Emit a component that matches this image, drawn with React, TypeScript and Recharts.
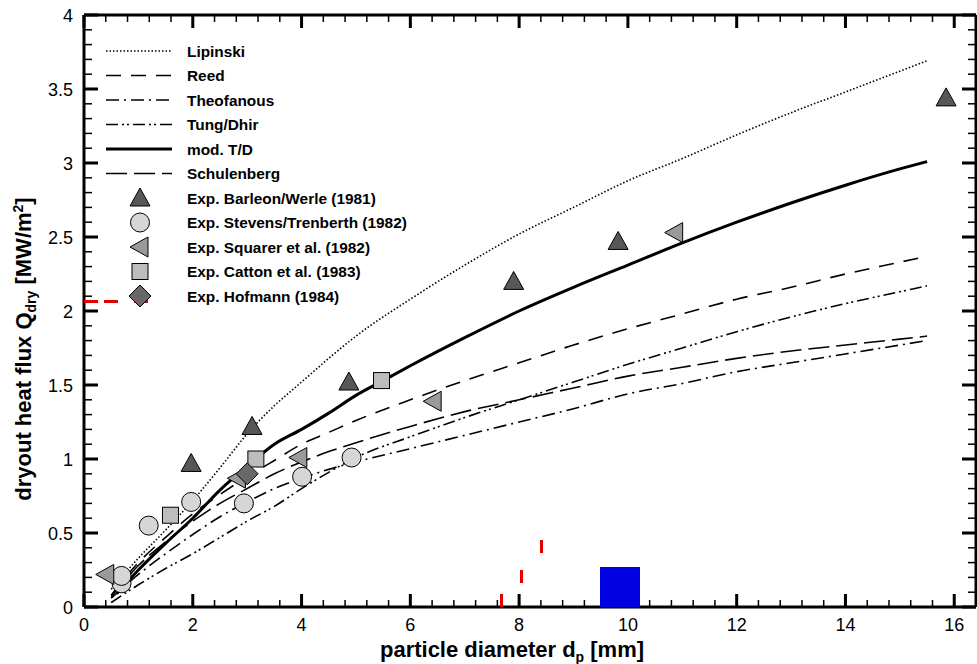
import { ComposedChart, Line, Scatter, XAxis, YAxis } from 'recharts';

// model curves: [d_p mm, Q_dry MW/m2]
const lipinski = [
  [0.5, 0.12], [1, 0.33], [1.5, 0.52], [2, 0.72], [2.5, 0.94], [3, 1.17], [3.5, 1.36],
  [4, 1.52], [4.5, 1.68], [5, 1.83], [6, 2.08], [7, 2.31], [8, 2.52], [9, 2.7],
  [10, 2.88], [11, 3.03], [12, 3.19], [13, 3.34], [14, 3.48], [15, 3.62], [15.5, 3.69],
];
const reed = [
  [0.5, 0.08], [1, 0.3], [1.5, 0.47], [2, 0.63], [2.5, 0.76], [3, 0.88], [3.5, 0.99],
  [4, 1.1], [4.5, 1.18], [5, 1.26], [6, 1.4], [7, 1.53], [8, 1.65], [9, 1.77],
  [10, 1.88], [11, 1.98], [12, 2.08], [13, 2.16], [14, 2.25], [15, 2.33], [15.5, 2.37],
];
const theofanous = [
  [0.5, 0.06], [1, 0.22], [1.5, 0.36], [2, 0.49], [2.5, 0.61], [3, 0.71], [3.5, 0.8],
  [4, 0.87], [4.5, 0.93], [5, 0.98], [6, 1.07], [7, 1.16], [8, 1.25], [9, 1.34],
  [10, 1.44], [11, 1.51], [12, 1.59], [13, 1.65], [14, 1.71], [15, 1.77], [15.5, 1.8],
];
const tungDhir = [
  [0.5, 0.03], [1, 0.15], [1.5, 0.26], [2, 0.36], [2.5, 0.47], [3, 0.58], [3.5, 0.68],
  [4, 0.8], [4.5, 0.91], [5, 1.01], [6, 1.15], [7, 1.28], [8, 1.4], [9, 1.52],
  [10, 1.64], [11, 1.75], [12, 1.86], [13, 1.96], [14, 2.05], [15, 2.13], [15.5, 2.17],
];
const modTD = [
  [0.6, 0.09], [1, 0.25], [1.5, 0.43], [2, 0.6], [2.5, 0.79], [3, 0.95], [3.5, 1.1],
  [4, 1.2], [4.5, 1.31], [5, 1.43], [5.5, 1.53], [6, 1.63], [7, 1.82], [8, 2.0],
  [9, 2.16], [10, 2.31], [11, 2.46], [12, 2.6], [13, 2.73], [14, 2.85], [15, 2.96], [15.5, 3.01],
];
const schulenberg = [
  [0.5, 0.07], [1, 0.28], [1.5, 0.44], [2, 0.58], [2.5, 0.7], [3, 0.8], [3.5, 0.9],
  [4, 0.98], [4.5, 1.05], [5, 1.11], [6, 1.22], [7, 1.32], [8, 1.4], [9, 1.48],
  [10, 1.56], [11, 1.62], [12, 1.68], [13, 1.73], [14, 1.77], [15, 1.81], [15.5, 1.83],
];

// experiments
const barleonWerle = [[1.97, 0.97], [3.09, 1.22], [4.87, 1.52], [7.9, 2.2], [9.82, 2.47], [15.85, 3.44]];
const stevensTrenberth = [[0.69, 0.16], [0.69, 0.21], [1.19, 0.55], [1.97, 0.71], [2.94, 0.7], [4.01, 0.88], [4.92, 1.01]];
const squarer = [[0.4, 0.22], [2.82, 0.87], [3.95, 1.01], [6.42, 1.39], [10.86, 2.53]];
const catton = [[1.59, 0.62], [3.16, 1.0], [5.47, 1.53]];
const hofmann = [[3.0, 0.9]];

// anchors the frame axes (top / right) so that they are drawn
const frameAnchor = [[0, 0]];

const xMajor = [0, 2, 4, 6, 8, 10, 12, 14, 16];
const yMajor = [0, 0.5, 1, 1.5, 2, 2.5, 3, 3.5, 4];
const xMinor = Array.from({ length: 42 }, (_, i) => Math.round(i * 4) / 10).filter((v) => v % 2 !== 0);
const yMinor = Array.from({ length: 41 }, (_, i) => i / 10).filter((_, i) => i % 5 !== 0);
const xDomain = [0, 16.4];
const yDomain = [0, 4];

const W = 977;
const H = 664;
// plot box as set by the chart margins and axis sizes below
const PLOT = { left: 84, top: 15, right: 976, bottom: 607 };
const sx = (v: number) => PLOT.left + ((v - xDomain[0]) / (xDomain[1] - xDomain[0])) * (PLOT.right - PLOT.left);
const sy = (v: number) => PLOT.bottom - ((v - yDomain[0]) / (yDomain[1] - yDomain[0])) * (PLOT.bottom - PLOT.top);

const FONT = '"Liberation Sans", Arial, Helvetica, sans-serif';

const pts = (a: number[][]) => a.map(([x, y]) => ({ x, y }));

const curves = [
  { name: 'Lipinski', data: lipinski, dash: '1.5 2', width: 1.6 },
  { name: 'Reed', data: reed, dash: '15 10', width: 1.6 },
  { name: 'Theofanous', data: theofanous, dash: '13 5 2 5', width: 1.6 },
  { name: 'Tung/Dhir', data: tungDhir, dash: '12 4 2 3 2 4', width: 1.6 },
  { name: 'mod. T/D', data: modTD, dash: undefined, width: 3 },
  { name: 'Schulenberg', data: schulenberg, dash: '21 7', width: 1.6 },
];

const Marker = ({ kind, cx, cy }: { kind: string; cx: number; cy: number }) => {
  if (kind === 'tri')
    return <polygon points={`${cx},${cy - 10} ${cx + 10},${cy + 8} ${cx - 10},${cy + 8}`} fill="#575757" stroke="#000" strokeWidth={1} />;
  if (kind === 'circle') return <circle cx={cx} cy={cy} r={9.5} fill="#d6d6d6" stroke="#000" strokeWidth={1} />;
  if (kind === 'left')
    return <polygon points={`${cx - 10},${cy} ${cx + 8},${cy - 10} ${cx + 8},${cy + 10}`} fill="#9a9a9a" stroke="#000" strokeWidth={1} />;
  if (kind === 'square') return <rect x={cx - 8} y={cy - 8} width={16} height={16} fill="#bdbdbd" stroke="#000" strokeWidth={1} />;
  return <polygon points={`${cx},${cy - 11} ${cx + 11},${cy} ${cx},${cy + 11} ${cx - 11},${cy}`} fill="#686868" stroke="#000" strokeWidth={1} />;
};

const experiments = [
  { name: 'Exp. Barleon/Werle (1981)', data: barleonWerle, kind: 'tri' },
  { name: 'Exp. Stevens/Trenberth (1982)', data: stevensTrenberth, kind: 'circle' },
  { name: 'Exp. Squarer et al. (1982)', data: squarer, kind: 'left' },
  { name: 'Exp. Catton et al. (1983)', data: catton, kind: 'square' },
  { name: 'Exp. Hofmann (1984)', data: hofmann, kind: 'diamond' },
];

const XLabel = (props: any) => (
  <text x={props.x} y={Number(props.y) + 24} textAnchor="middle" fontSize={18} fontFamily={FONT} fill="#000">
    {props.payload.value}
  </text>
);

const YLabel = (props: any) => (
  <text x={Number(props.x) - 11} y={Number(props.y) + 6.5} textAnchor="end" fontSize={18} fontFamily={FONT} fill="#000">
    {String(props.payload.value)}
  </text>
);

const axisLine = { stroke: '#000', strokeWidth: 3 };

// inward tick marks on the four sides
const xTickMarks = [...xMajor.map((v) => ({ v, major: true })), ...xMinor.map((v) => ({ v, major: false }))];
const yTickMarks = [...yMajor.map((v) => ({ v, major: true })), ...yMinor.map((v) => ({ v, major: false }))];

export default function App() {
  return (
    <div style={{ position: 'absolute', left: 0, top: 0, width: W, height: H, background: '#fff' }}>
      <ComposedChart width={W} height={H} margin={{ top: 14, right: 0, left: 0, bottom: 0 }}>
        <XAxis
          dataKey="x"
          type="number"
          domain={xDomain}
          allowDataOverflow
          ticks={xMajor}
          interval={0}
          tickSize={0}
          tickMargin={0}
          tickLine={false}
          tick={<XLabel />}
          axisLine={axisLine}
          height={57}
        />
        <XAxis
          xAxisId="top"
          orientation="top"
          dataKey="x"
          type="number"
          domain={xDomain}
          allowDataOverflow
          ticks={xMajor}
          tickLine={false}
          tick={false}
          axisLine={axisLine}
          height={1}
        />
        <YAxis
          type="number"
          domain={yDomain}
          allowDataOverflow
          ticks={yMajor}
          interval={0}
          tickSize={0}
          tickMargin={0}
          tickLine={false}
          tick={<YLabel />}
          axisLine={axisLine}
          width={84}
        />
        <YAxis
          yAxisId="right"
          orientation="right"
          type="number"
          domain={yDomain}
          allowDataOverflow
          ticks={yMajor}
          tickLine={false}
          tick={false}
          axisLine={axisLine}
          width={1}
        />
        <Scatter
          xAxisId="top"
          yAxisId="right"
          data={pts(frameAnchor)}
          dataKey="y"
          shape={() => <g />}
          legendType="none"
          isAnimationActive={false}
        />
        {curves.map((c) => (
          <Line
            key={c.name}
            name={c.name}
            data={pts(c.data)}
            dataKey="y"
            type="monotone"
            stroke="#000"
            strokeWidth={c.width}
            strokeDasharray={c.dash}
            dot={false}
            activeDot={false}
            isAnimationActive={false}
          />
        ))}
        {experiments.map((e) => (
          <Scatter
            key={e.name}
            name={e.name}
            data={pts(e.data)}
            dataKey="y"
            shape={(p: any) => <Marker kind={e.kind} cx={p.cx} cy={p.cy} />}
            isAnimationActive={false}
          />
        ))}
      </ComposedChart>

      {/* ticks, legend and axis titles */}
      <svg width={W} height={H} style={{ position: 'absolute', left: 0, top: 0, pointerEvents: 'none' }}>
        {xTickMarks.map(({ v, major }) => (
          <g key={`x${v}`}>
            <rect x={sx(v) - (major ? 1.5 : 0.75)} y={PLOT.bottom - (major ? 13 : 7)} width={major ? 3 : 1.5} height={major ? 13 : 7} fill="#000" />
            <rect x={sx(v) - (major ? 1.5 : 0.75)} y={PLOT.top} width={major ? 3 : 1.5} height={major ? 13 : 7} fill="#000" />
          </g>
        ))}
        {yTickMarks.map(({ v, major }) => (
          <g key={`y${v}`}>
            <rect x={PLOT.left} y={sy(v) - (major ? 1.5 : 0.75)} width={major ? 14 : 8} height={major ? 3 : 1.5} fill="#000" />
            <rect x={PLOT.right - (major ? 14 : 8)} y={sy(v) - (major ? 1.5 : 0.75)} width={major ? 14 : 8} height={major ? 3 : 1.5} fill="#000" />
          </g>
        ))}
        {/* temporary position check */}
        <rect x={84} y={300} width={14} height={3} fill="#e00000" />
        <rect x={104} y={300} width={14} height={3} fill="#e00000" />
        <rect x={134} y={300} width={14} height={3} fill="#e00000" />
        <rect x={500} y={594} width={3} height={13} fill="#e00000" />
        <rect x={520} y={570} width={3} height={13} fill="#e00000" />
        <rect x={540} y={540} width={3} height={13} fill="#e00000" />
        <rect x={600} y={567} width={40} height={40} fill="#0000e0" />
        {curves.map((c, i) => {
          const y = 51 + i * 24.5;
          return (
            <g key={c.name}>
              <line x1={106} x2={172} y1={y} y2={y} stroke="#000" strokeWidth={c.width} strokeDasharray={c.dash} />
              <text x={187} y={y + 5.5} fontSize={15.4} fontWeight="bold" fontFamily={FONT}>
                {c.name}
              </text>
            </g>
          );
        })}
        {experiments.map((e, i) => {
          const y = 51 + (i + 6) * 24.5;
          return (
            <g key={e.name}>
              <Marker kind={e.kind} cx={140} cy={y} />
              <text x={187} y={y + 5.5} fontSize={15.4} fontWeight="bold" fontFamily={FONT}>
                {e.name}
              </text>
            </g>
          );
        })}
        <text x={512} y={657} textAnchor="middle" fontSize={22} fontWeight="bold" fontFamily={FONT}>
          particle diameter d<tspan dy={5} fontSize={14}>p</tspan>
          <tspan dy={-5}> [mm]</tspan>
        </text>
        <text
          transform="translate(31, 349) rotate(-90)"
          textAnchor="middle"
          fontSize={22}
          fontWeight="bold"
          fontFamily={FONT}
        >
          dryout heat flux Q<tspan dy={5} fontSize={14}>dry</tspan>
          <tspan dy={-5}> [MW/m</tspan>
          <tspan dy={-8} fontSize={14}>2</tspan>
          <tspan dy={8}>]</tspan>
        </text>
      </svg>
    </div>
  );
}
